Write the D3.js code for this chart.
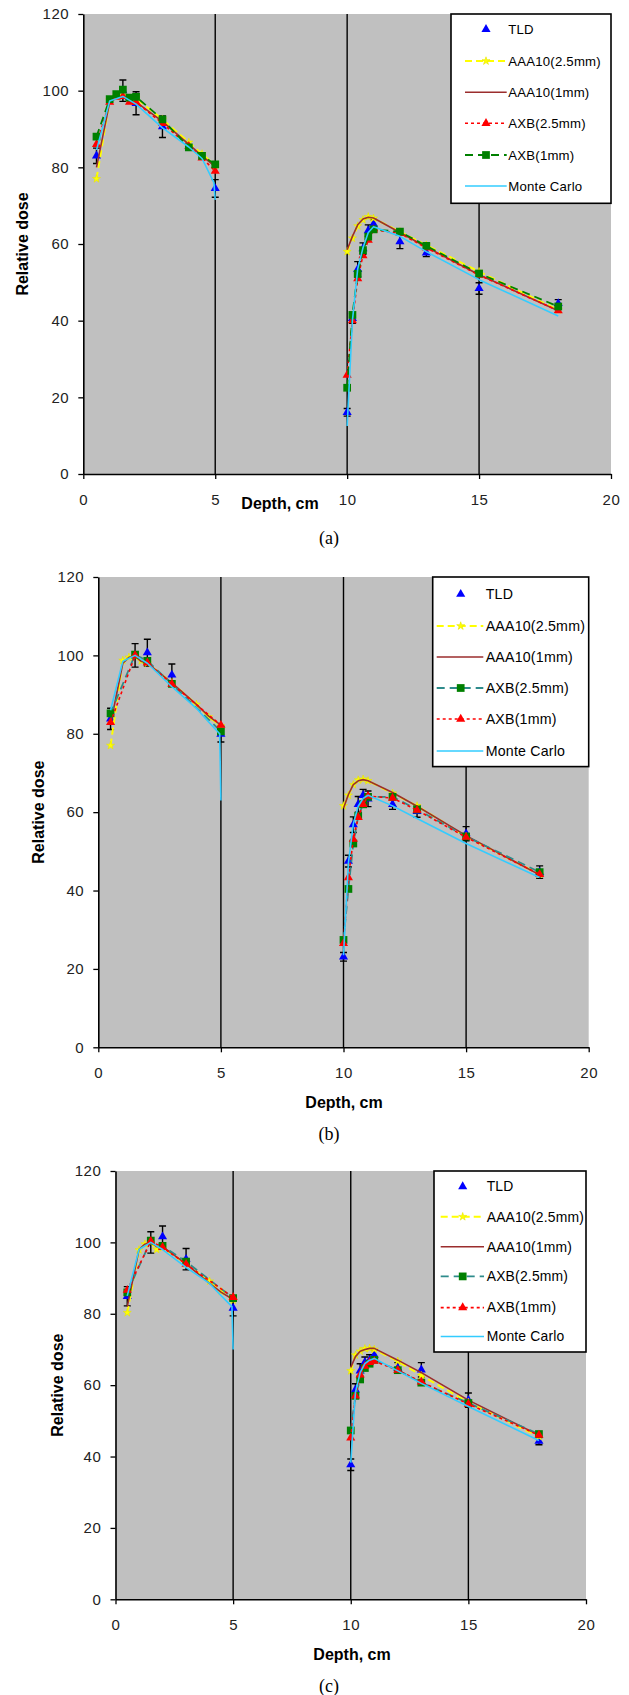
<!DOCTYPE html>
<html>
<head>
<meta charset="utf-8">
<script src="https://cdn.jsdelivr.net/npm/d3@7"></script>
<style>
  body { margin: 0; background: #fff; }
  svg { display: block; }
</style>
</head>
<body>
<svg id="fig" width="629" height="1695"></svg>
<script>
// ---- Depths (cm) ----
const depthModel = [0.5, 1, 1.25, 1.5, 1.75, 2, 3, 4, 4.5, 5, 10, 10.2, 10.4, 10.6, 10.8, 11, 12, 13, 15, 18];
const depthTld   = [0.5, 1.5, 2, 3, 5, 10, 10.2, 10.4, 10.6, 10.8, 11, 12, 13, 15, 18];
const depthMc    = [0.5, 1, 1.5, 2, 3, 4, 4.5, 4.95, 5, 10, 10.2, 10.4, 10.6, 10.8, 11, 12, 13, 15, 18];

// ---- Axis ticks ----
const xTicks = [0, 5, 10, 15, 20];
const yTicks = [0, 20, 40, 60, 80, 100, 120];
const legendLabels = ["TLD", "AAA10(2.5mm)", "AAA10(1mm)", "AXB(2.5mm)", "AXB(1mm)", "Monte Carlo"];

// ---- Panel (a) ----
const tldA     = [83, 100, 96.7, 90.6, 74.5, 16.1, 40.6, 53.4, 58.8, 63.5, 65.2, 60.6, 57.7, 48.4, 44.5];
const tldErrA  = [2, 2.8, 3, 2.8, 2.3, 1, 1.3, 2, 1.5, 1.5, 1.2, 1.8, 1, 1.5, 1];
const aaa25A   = [77, 97.5, 98.5, 98.8, 98, 98, 92.5, 86.5, 83.5, 80.5, 58, 61.5, 64.7, 66.3, 67.1, 66.7, 63.2, 59.7, 52.8, 42.8];
const aaa1A    = [80, 97, 98, 98.5, 97, 97, 92, 86, 83, 80.2, 58.5, 62, 65, 66.5, 67, 66.8, 63, 59.2, 52, 42.6];
const axb25A   = [86, 97, 98.3, 98.5, 97, 97, 91.5, 85.5, 82.5, 79, 25.8, 40, 51, 57, 61, 63.7, 62.8, 59, 51.9, 42.6];
const axb1A    = [88, 97.8, 99.1, 100.3, 98.2, 98.4, 92.5, 85.2, 83, 80.8, 22.5, 41.5, 52.2, 58.4, 61.9, 63.8, 63.2, 59.5, 52.3, 43.7];
const mcA      = [84.5, 97.3, 98.5, 96.5, 90.3, 85.3, 82.3, 76, 71.5, 12.5, 40, 53.5, 59, 63, 64.5, 62, 58, 50.7, 41.2];

// ---- Panel (b) ----
const tldB     = [83.8, 100, 100.7, 95, 79.9, 23.1, 47.5, 56.8, 62, 64.3, 63.4, 62, 60.2, 54.5, 44.7];
const tldErrB  = [2.7, 3, 3.4, 2.8, 2, 1.1, 1.5, 2, 2, 1.5, 2, 1.3, 1.5, 1.8, 1.6];
const aaa25B   = [77, 98.7, 99.5, 99.8, 98.6, 98, 93, 87.5, 84.3, 82, 61.6, 64.3, 67, 68.2, 68.4, 68, 64.8, 61.6, 53.8, 44.1];
const aaa1B    = [82.5, 98, 99.5, 99.8, 98.5, 98, 93, 87.5, 84.5, 82.2, 61, 64.5, 67, 68, 68.3, 68, 65, 61.5, 54, 44];
const axb25B   = [85.2, 100.2, 98.6, 92.7, 80.6, 27.4, 40.4, 52, 59, 62, 63.9, 63.9, 60.7, 53.8, 44.7];
const axb1B    = [82.9, 100, 98.1, 92.7, 82.2, 26.5, 43.3, 53.1, 58.7, 62, 64.1, 63.6, 60.5, 53.6, 44.1];
const mcB      = [86, 98.5, 100, 98, 92, 86.5, 83, 80, 63, 23.5, 47, 57, 61.5, 63.5, 64.3, 61.6, 58.4, 52, 43.3];

// ---- Panel (c) ----
const tldC     = [84.9, 100, 101.6, 95.3, 81.6, 37.7, 58.7, 64, 66.4, 67, 68.4, 64.8, 64.3, 55.8, 44.3];
const tldErrC  = [2.7, 3, 3, 3, 2.2, 1.6, 1.7, 2, 1.5, 1.5, 1.5, 1.5, 2, 2, 1];
const aaa25C   = [80.3, 97.9, 99.5, 100, 98, 98.5, 94, 89.1, 86.2, 83.8, 64, 68.4, 69.5, 70.2, 70.3, 70, 66.7, 62.7, 55.2, 45.6];
const aaa1C    = [82, 98, 99.5, 100, 98.8, 98.8, 94, 88.5, 86, 84, 65, 68, 69.5, 70, 70.3, 70.3, 67, 63.5, 55.8, 46];
const axb25C   = [86, 100.5, 99, 94.6, 84.4, 47.3, 57, 61.6, 64.8, 66, 67.1, 64.2, 60.7, 55, 46.3];
const axb1C    = [86.6, 100.3, 98.6, 93.9, 84.6, 45.2, 57, 62.9, 65.3, 66.4, 66.7, 64.2, 60.9, 54.7, 46];
const mcC      = [85, 98, 100, 98, 93, 88.5, 85, 82, 70, 38.3, 58, 63.5, 66, 67, 67.5, 64, 60.5, 54, 44.5];

// ---- Visual styles ----
const STY = {
  tld:   { marker: "tri", fill: "#0000ff" },
  aaa25: { stroke: "#ffff00", width: 2, dash: "7,4", marker: "star", fill: "#ffff00" },
  aaa1:  { stroke: "#9b2d2d", width: 1.6, dash: null },
  red:   { stroke: "#ff0000", width: 1.6, dash: "3,3", marker: "tri", fill: "#ff0000" },
  green: { stroke: "#008000", width: 1.8, dash: "8,5", marker: "sq", fill: "#008000" },
  teal:  { stroke: "#2e8b8b", width: 1.8, dash: "8,5", marker: "sq", fill: "#008000" },
  mc:    { stroke: "#33ccff", width: 1.6, dash: null }
};

const zip = (xs, ys) => xs.map((d, i) => ({ x: d, y: ys[i] }));

const panels = [
  {
    left: 83.3, right: 611, top: 14, bottom: 474,
    yTitleX: 22.3, xTitleX: 280, xTitleY: 503, capY: 538, cap: "(a)",
    lgd: { x: 451, y: 14, w: 160, h: 189.3, rows: [15.3, 47, 78.3, 109.3, 141, 172], s0: 14, s1: 55.7, mk: 35, tx: 57.3, fs: 13.2 },
    tld: zip(depthTld, tldA), err: tldErrA,
    lines: [
      { pts: zip(depthModel, aaa25A), sty: STY.aaa25 },
      { pts: zip(depthModel, aaa1A),  sty: STY.aaa1 },
      { pts: zip(depthModel, axb25A), sty: STY.red },
      { pts: zip(depthModel, axb1A),  sty: STY.green },
      { pts: zip(depthMc, mcA),       sty: STY.mc }
    ],
    legendSty: [STY.tld, STY.aaa25, STY.aaa1, STY.red, STY.green, STY.mc]
  },
  {
    left: 98.3, right: 588.7, top: 577, bottom: 1047.3,
    yTitleX: 38.3, xTitleX: 344, xTitleY: 1102.7, capY: 1134, cap: "(b)",
    lgd: { x: 432.7, y: 577, w: 156, h: 189.6, rows: [17.2, 49, 80, 111, 142, 174], s0: 4, s1: 50.6, mk: 28, tx: 53, fs: 14.2 },
    tld: zip(depthTld, tldB), err: tldErrB,
    lines: [
      { pts: zip(depthModel, aaa25B), sty: STY.aaa25 },
      { pts: zip(depthModel, aaa1B),  sty: STY.aaa1 },
      { pts: zip(depthTld, axb25B),   sty: STY.teal },
      { pts: zip(depthTld, axb1B),    sty: STY.red },
      { pts: zip(depthMc, mcB),       sty: STY.mc }
    ],
    legendSty: [STY.tld, STY.aaa25, STY.aaa1, STY.teal, STY.red, STY.mc]
  },
  {
    left: 115.5, right: 586, top: 1171, bottom: 1599.3,
    yTitleX: 57.3, xTitleX: 352, xTitleY: 1654, capY: 1686, cap: "(c)",
    lgd: { x: 434, y: 1171, w: 152, h: 181, rows: [15.6, 45.7, 75.8, 105.4, 136.6, 165.5], s0: 6.7, s1: 50, mk: 28.7, tx: 52.7, fs: 13.9 },
    tld: zip(depthTld, tldC), err: tldErrC,
    lines: [
      { pts: zip(depthModel, aaa25C), sty: STY.aaa25 },
      { pts: zip(depthModel, aaa1C),  sty: STY.aaa1 },
      { pts: zip(depthTld, axb25C),   sty: STY.teal },
      { pts: zip(depthTld, axb1C),    sty: STY.red },
      { pts: zip(depthMc, mcC),       sty: STY.mc }
    ],
    legendSty: [STY.tld, STY.aaa25, STY.aaa1, STY.teal, STY.red, STY.mc]
  }
];

const svg = d3.select("#fig");
const SANS = "'Liberation Sans', Arial, sans-serif";

function markerPath(kind) {
  if (kind === "tri") return d3.symbol(d3.symbolTriangle, 36)();
  if (kind === "sq") return d3.symbol(d3.symbolSquare, 60)();
  if (kind === "star") return d3.symbol(d3.symbolStar, 20)();
  return null;
}

function drawMarker(sel, kind, fill, cx, cy) {
  sel.append("path")
    .attr("d", markerPath(kind))
    .attr("transform", `translate(${cx},${cy})`)
    .attr("fill", fill)
    .attr("stroke", kind === "star" ? "#e6e600" : "none")
    .attr("stroke-width", 0.6);
}

panels.forEach((p, pi) => {
  const x = d3.scaleLinear().domain([0, 20]).range([p.left, p.right]);
  const y = d3.scaleLinear().domain([0, 120]).range([p.bottom, p.top]);
  const g = svg.append("g");

  // plot area
  g.append("rect")
    .attr("x", p.left).attr("y", p.top)
    .attr("width", p.right - p.left).attr("height", p.bottom - p.top)
    .attr("fill", "#c0c0c0");

  // vertical gridlines
  g.selectAll("line.grid").data([5, 10, 15]).join("line")
    .attr("x1", d => x(d)).attr("x2", d => x(d))
    .attr("y1", p.top).attr("y2", p.bottom)
    .attr("stroke", "#000").attr("stroke-width", 1.4);

  const clipId = "clip" + pi;
  g.append("clipPath").attr("id", clipId).append("rect")
    .attr("x", p.left).attr("y", p.top - 6)
    .attr("width", p.right - p.left).attr("height", p.bottom - p.top + 6);
  const plot = g.append("g").attr("clip-path", `url(#${clipId})`);

  const line = d3.line().x(d => x(d.x)).y(d => y(d.y));

  // TLD error bars and markers
  p.tld.forEach((d, i) => {
    const e = p.err[i];
    const cx = x(d.x);
    plot.append("path")
      .attr("d", `M${cx},${y(d.y - e)}V${y(d.y + e)}M${cx - 3.5},${y(d.y + e)}h7M${cx - 3.5},${y(d.y - e)}h7`)
      .attr("stroke", "#000").attr("stroke-width", 1.4).attr("fill", "none");
    drawMarker(plot, "tri", STY.tld.fill, cx, y(d.y));
  });

  // model series: lines (near field and distal segments drawn separately), then markers
  p.lines.forEach(s => {
    const segs = [s.pts.filter(d => d.x <= 5), s.pts.filter(d => d.x >= 10)];
    segs.forEach(seg => {
      plot.append("path")
        .attr("d", line(seg))
        .attr("fill", "none")
        .attr("stroke", s.sty.stroke)
        .attr("stroke-width", s.sty.width)
        .attr("stroke-dasharray", s.sty.dash)
        .attr("stroke-linejoin", "round");
    });
    if (s.sty.marker) {
      s.pts.forEach(d => drawMarker(plot, s.sty.marker, s.sty.fill, x(d.x), y(d.y)));
    }
  });

  // axes
  const yAxis = g.append("g")
    .attr("transform", `translate(${p.left},0)`)
    .call(d3.axisLeft(y).tickValues(yTicks).tickSize(5).tickSizeOuter(0).tickPadding(9));
  const xAxis = g.append("g")
    .attr("transform", `translate(0,${p.bottom})`)
    .call(d3.axisBottom(x).tickValues(xTicks).tickSize(5).tickSizeOuter(0));
  [yAxis, xAxis].forEach(a => {
    a.select(".domain").attr("stroke", "#000").attr("stroke-width", 1.6);
    a.selectAll(".tick line").attr("stroke", "#000").attr("stroke-width", 1.3);
    a.selectAll(".tick text")
      .attr("fill", "#222")
      .style("font-family", SANS)
      .style("font-size", "15px")
      .style("letter-spacing", "0.6px");
  });
  xAxis.selectAll(".tick text").attr("y", 25.5).attr("dy", "0.35em");

  // axis titles
  g.append("text")
    .attr("transform", `translate(${p.yTitleX},${(p.top + p.bottom) / 2}) rotate(-90)`)
    .attr("text-anchor", "middle").attr("dy", "0.35em")
    .style("font-family", SANS).style("font-weight", "bold").style("font-size", "16px")
    .text("Relative dose");
  g.append("text")
    .attr("x", p.xTitleX).attr("y", p.xTitleY)
    .attr("text-anchor", "middle").attr("dy", "0.35em")
    .style("font-family", SANS).style("font-weight", "bold").style("font-size", "16px")
    .text("Depth, cm");
  g.append("text")
    .attr("x", 329).attr("y", p.capY)
    .attr("text-anchor", "middle").attr("dy", "0.35em")
    .style("font-family", "'Liberation Serif', 'Times New Roman', serif").style("font-size", "18px")
    .text(p.cap);

  // legend
  const L = p.lgd;
  const lg = g.append("g").attr("transform", `translate(${L.x},${L.y})`);
  lg.append("rect")
    .attr("x", 0).attr("y", 0).attr("width", L.w).attr("height", L.h)
    .attr("fill", "#fff").attr("stroke", "#000").attr("stroke-width", 1.6);
  legendLabels.forEach((lab, i) => {
    const sty = p.legendSty[i];
    const ry = L.rows[i];
    if (sty.stroke) {
      lg.append("line")
        .attr("x1", L.s0).attr("x2", L.s1).attr("y1", ry).attr("y2", ry)
        .attr("stroke", sty.stroke).attr("stroke-width", sty.width)
        .attr("stroke-dasharray", sty.dash);
    }
    if (sty.marker) drawMarker(lg, sty.marker, sty.fill, L.mk, ry);
    lg.append("text")
      .attr("x", L.tx).attr("y", ry).attr("dy", "0.35em")
      .style("font-family", SANS).style("font-size", L.fs + "px")
      .style("letter-spacing", "0.2px")
      .text(lab);
  });
});
</script>
</body>
</html>
